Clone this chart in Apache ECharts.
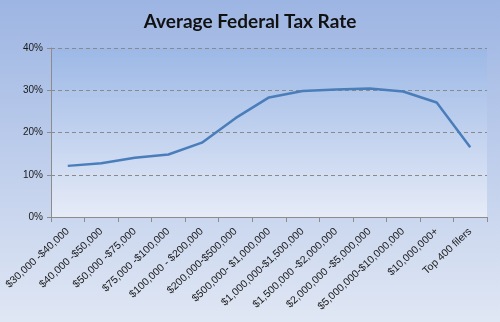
<!DOCTYPE html>
<html><head><meta charset="utf-8">
<script src="https://cdn.jsdelivr.net/npm/echarts@6/dist/echarts.min.js"></script>
<style>html,body{margin:0;padding:0;}#c{width:500px;height:322px;}</style>
</head><body><div id="c"></div>
<script>
const categories = ['$30,000 -$40,000','$40,000 -$50,000','$50,000 -$75,000','$75,000 -$100,000','$100,000 - $200,000','$200,000-$500,000','$500,000- $1,000,000','$1,000,000-$1,500,000','$1,500,000 -$2,000,000','$2,000,000 -$5,000,000','$5,000,000-$10,000,000','$10,000,000+','Top 400 filers'];
const taxRate = [12.1, 12.7, 14.0, 14.8, 17.6, 23.4, 28.3, 29.8, 30.2, 30.4, 29.7, 27.1, 16.5];
const yTicks = [0, 10, 20, 30, 40];
const chart = echarts.init(document.getElementById('c'));
chart.setOption({
  animation: false,
  backgroundColor: new echarts.graphic.LinearGradient(0,0,0,1,[{offset:0,color:'#9db5e3'},{offset:1,color:'#e0e7f4'}]),
  title: {text:'Average Federal Tax Rate', left:'center', top:7, textStyle:{fontFamily:'Lato', fontWeight:'bold', fontSize:19, color:'#111'}},
  grid: {left:51, right:13, top:48, bottom:105, show:true, borderWidth:0,
    backgroundColor: new echarts.graphic.LinearGradient(0,0,0,1,[{offset:0,color:'#9cb8e6'},{offset:1,color:'#e6ebf7'}])},
  xAxis: {type:'category', data:categories, boundaryGap:true,
    axisLine:{lineStyle:{color:'#8c8c8c'}}, axisTick:{show:true, length:5, lineStyle:{color:'#8c8c8c'}},
    axisLabel:{rotate:43, interval:0, fontFamily:'Liberation Sans', fontSize:10.5, color:'#1a1a1a', margin:13}},
  yAxis: {type:'value', min:yTicks[0], max:yTicks[yTicks.length-1], interval:10,
    axisLine:{show:true, lineStyle:{color:'#8c8c8c'}}, axisTick:{show:true, length:4, lineStyle:{color:'#8c8c8c'}},
    axisLabel:{formatter:'{value}%', fontFamily:'Liberation Sans', fontSize:10, color:'#1a1a1a', margin:8},
    splitLine:{show:true, lineStyle:{color:'#8a8a8a', type:[4,3], width:1}}},
  series: [{type:'line', data:taxRate, symbol:'none', lineStyle:{color:'#4a7ebb', width:2.5}}]
});
</script></body></html>
